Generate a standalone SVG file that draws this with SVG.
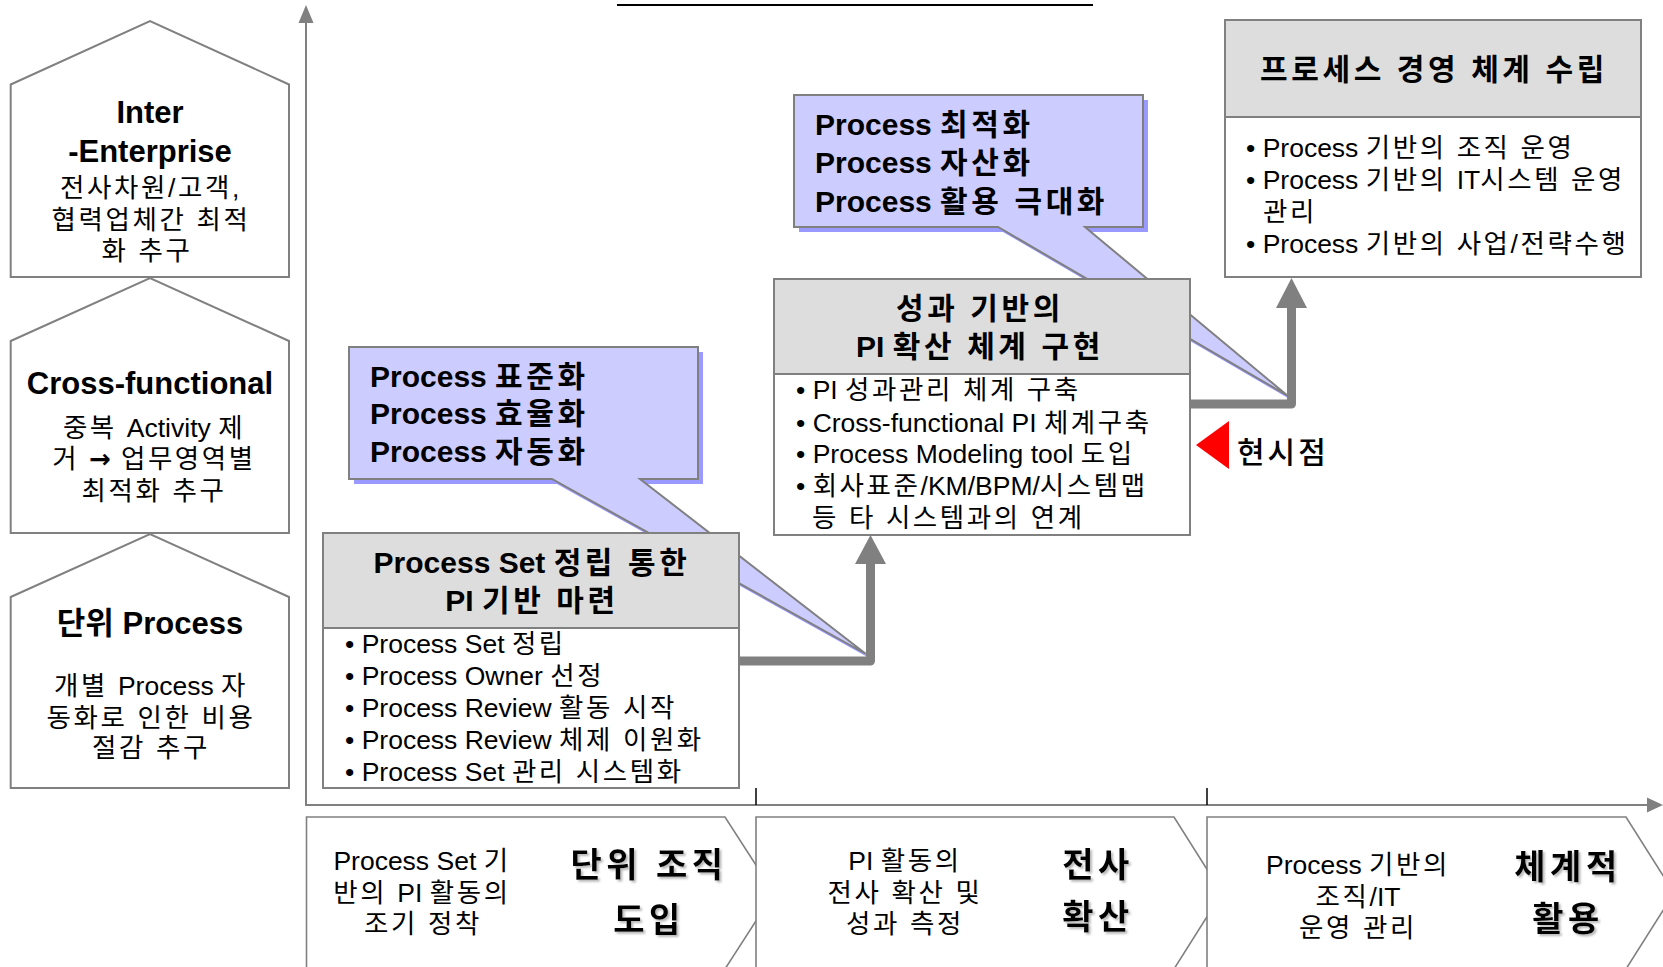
<svg xmlns="http://www.w3.org/2000/svg" width="1663" height="967" viewBox="0 0 1663 967">
<defs>
<style>
text{font-family:"Liberation Sans","Noto Sans CJK KR",sans-serif;fill:#000}
.b{font-weight:bold}
.t30{font-size:30px}
.t31{font-size:31px}
.t26{font-size:26.5px}
.t34{font-size:34px}
.c{text-anchor:middle}
.k{letter-spacing:2.6px}
.kb{letter-spacing:3.6px}
.kx{letter-spacing:4.5px}
.house{fill:#fff;stroke:#808080;stroke-width:2}
.chev{fill:#fff;stroke:#808080;stroke-width:1.6}
.box{fill:#fff;stroke:#808080;stroke-width:2}
.hdr{fill:#dddddd;stroke:#808080;stroke-width:2}
.call{fill:#ccccff;stroke:#808080;stroke-width:2}
.callsh{fill:#9999ff}
.axis{stroke:#808080;stroke-width:2;fill:none}
.tick{stroke:#000;stroke-width:1.5}
.flow{stroke:#808080;stroke-width:9;fill:none;stroke-linejoin:round}
.head{fill:#808080}
</style>
<filter id="ts" x="-10%" y="-10%" width="130%" height="140%">
<feDropShadow dx="2" dy="2" stdDeviation="0.8" flood-color="#888" flood-opacity="0.6"/>
</filter>
</defs>

<!-- title underline (title text cropped) -->
<line x1="617" y1="5" x2="1093" y2="5" stroke="#000" stroke-width="2"/>

<!-- axes -->
<g id="axes">
<line class="axis" x1="306" y1="22" x2="306" y2="805"/>
<polygon class="head" points="306,5 298.5,23 313.5,23"/>
<line class="axis" x1="305" y1="805" x2="1648" y2="805"/>
<polygon class="head" points="1663,805 1647,797.5 1647,812.5"/>
<line class="tick" x1="756" y1="788" x2="756" y2="805"/>
<line class="tick" x1="1207" y1="788" x2="1207" y2="805"/>
</g>

<!-- stage chevrons -->
<g id="stage1">
<path class="chev" d="M306.5,817 H725 L774,893 L725,969 H306.5 Z"/>
<text class="t26 c" x="422" y="870">Process Set <tspan class="k">기</tspan></text>
<text class="t26 c" x="422" y="902"><tspan class="k">반의 </tspan>PI <tspan class="k">활동의</tspan></text>
<text class="t26 c k" x="423" y="933">조기 정착</text>
<text class="t34 b c kx" x="649" y="877" filter="url(#ts)">단위 조직</text>
<text class="t34 b c kx" x="649" y="932" filter="url(#ts)">도입</text>
</g>
<g id="stage2">
<path class="chev" d="M756,817 H1174 L1222,893 L1174,969 H756 Z"/>
<text class="t26 c" x="905" y="870">PI <tspan class="k">활동의</tspan></text>
<text class="t26 c k" x="905" y="902">전사 확산 및</text>
<text class="t26 c k" x="905" y="933">성과 측정</text>
<text class="t34 b c kx" x="1098" y="877" filter="url(#ts)">전사</text>
<text class="t34 b c kx" x="1098" y="929" filter="url(#ts)">확산</text>
</g>
<g id="stage3">
<path class="chev" d="M1207,817 H1626 L1674,893 L1626,969 H1207 Z"/>
<text class="t26 c" x="1358" y="874">Process <tspan class="k">기반의</tspan></text>
<text class="t26 c" x="1358" y="906"><tspan class="k">조직</tspan>/IT</text>
<text class="t26 c k" x="1358" y="937">운영 관리</text>
<text class="t34 b c kx" x="1568" y="879" filter="url(#ts)">체계적</text>
<text class="t34 b c kx" x="1568" y="931" filter="url(#ts)">활용</text>
</g>

<!-- level houses -->
<g id="level3">
<path class="house" d="M10.7,84.5 L150,21 L289,84.5 V277 H10.7 Z"/>
<text class="t31 b c" x="150" y="123">Inter</text>
<text class="t31 b c" x="150" y="162">-Enterprise</text>
<text class="t26 c k" x="151" y="197">전사차원/고객,</text>
<text class="t26 c k" x="151" y="229">협력업체간 최적</text>
<text class="t26 c k" x="147" y="260">화 추구</text>
</g>
<g id="level2">
<path class="house" d="M10.7,341 L150,278 L289,341 V533 H10.7 Z"/>
<text class="t31 b c" x="150" y="394">Cross-functional</text>
<text class="t26 c" x="154" y="437"><tspan class="k">중복 </tspan>Activity <tspan class="k">제</tspan></text>
<text class="t26 c" x="154" y="468"><tspan class="k">거 </tspan><tspan style="font-family:'DejaVu Sans',sans-serif;font-weight:bold;font-size:26px">→</tspan><tspan class="k"> 업무영역별</tspan></text>
<text class="t26 c k" x="154" y="500">최적화 추구</text>
</g>
<g id="level1">
<path class="house" d="M10.7,597 L150,534 L289,597 V788 H10.7 Z"/>
<text class="t31 b c" x="150" y="634">단위 Process</text>
<text class="t26 c" x="151" y="695"><tspan class="k">개별 </tspan>Process <tspan class="k">자</tspan></text>
<text class="t26 c k" x="151" y="727">동화로 인한 비용</text>
<text class="t26 c k" x="151" y="757">절감 추구</text>
</g>

<!-- callouts -->
<g id="callout1">
<path class="callsh" d="M349,347 H698 V479 H640 L866,654 L552,479 H349 Z" transform="translate(5,5)"/>
<path class="call" d="M349,347 H698 V479 H640 L866,654 L552,479 H349 Z"/>
<text class="t30 b" x="370" y="387">Process <tspan class="kb">표준화</tspan></text>
<text class="t30 b" x="370" y="424">Process <tspan class="kb">효율화</tspan></text>
<text class="t30 b" x="370" y="462">Process <tspan class="kb">자동화</tspan></text>
</g>
<g id="callout2">
<path class="callsh" d="M794,95 H1143 V227 H1085 L1288,396 L998,227 H794 Z" transform="translate(5,5)"/>
<path class="call" d="M794,95 H1143 V227 H1085 L1288,396 L998,227 H794 Z"/>
<text class="t30 b" x="815" y="135">Process <tspan class="kb">최적화</tspan></text>
<text class="t30 b" x="815" y="173">Process <tspan class="kb">자산화</tspan></text>
<text class="t30 b" x="815" y="212">Process <tspan class="kb">활용 극대화</tspan></text>
</g>

<!-- stage boxes -->
<g id="boxA">
<rect class="box" x="323" y="533" width="416" height="255"/>
<rect class="hdr" x="323" y="533" width="416" height="95"/>
<text class="t30 b c" x="532" y="573">Process Set <tspan class="kb">정립 통한</tspan></text>
<text class="t30 b c" x="532" y="611">PI <tspan class="kb">기반 마련</tspan></text>
<text class="t26" x="345" y="653">• Process Set <tspan class="k">정립</tspan></text>
<text class="t26" x="345" y="685">• Process Owner <tspan class="k">선정</tspan></text>
<text class="t26" x="345" y="717">• Process Review <tspan class="k">활동 시작</tspan></text>
<text class="t26" x="345" y="749">• Process Review <tspan class="k">체제 이원화</tspan></text>
<text class="t26" x="345" y="781">• Process Set <tspan class="k">관리 시스템화</tspan></text>
</g>
<g id="boxB">
<rect class="box" x="774" y="279" width="416" height="256"/>
<rect class="hdr" x="774" y="279" width="416" height="95"/>
<text class="t30 b c kb" x="980" y="319">성과 기반의</text>
<text class="t30 b c" x="980" y="357">PI <tspan class="kb">확산 체계 구현</tspan></text>
<text class="t26" x="796" y="399">• PI <tspan class="k">성과관리 체계 구축</tspan></text>
<text class="t26" x="796" y="432">• Cross-functional PI <tspan class="k">체계구축</tspan></text>
<text class="t26" x="796" y="463">• Process Modeling tool <tspan class="k">도입</tspan></text>
<text class="t26" x="796" y="495">• <tspan class="k">회사표준</tspan>/KM/BPM/<tspan class="k">시스템맵</tspan></text>
<text class="t26 k" x="812" y="527">등 타 시스템과의 연계</text>
</g>
<g id="boxC">
<rect class="box" x="1225" y="20" width="416" height="257"/>
<rect class="hdr" x="1225" y="20" width="416" height="97"/>
<text class="t30 b c kb" x="1434" y="80">프로세스 경영 체계 수립</text>
<text class="t26" x="1246" y="157">• Process <tspan class="k">기반의 조직 운영</tspan></text>
<text class="t26" x="1246" y="189">• Process <tspan class="k">기반의 </tspan>IT<tspan class="k">시스템 운영</tspan></text>
<text class="t26 k" x="1263" y="221">관리</text>
<text class="t26" x="1246" y="253">• Process <tspan class="k">기반의 사업/전략수행</tspan></text>
</g>

<!-- connectors -->
<g id="connectors">
<path class="flow" d="M739,661 H870.5 V562"/>
<polygon class="head" points="870.5,535 855,564 886,564"/>
<path class="flow" d="M1190,404 H1291.5 V306"/>
<polygon class="head" points="1291.5,278 1276,308 1307,308"/>
</g>

<!-- current point marker -->
<g id="now">
<polygon points="1196,445 1229,421 1229,469" fill="#ff0000"/>
<text class="t30" x="1237" y="463" style="font-weight:500;letter-spacing:3px">현시점</text>
</g>
</svg>
